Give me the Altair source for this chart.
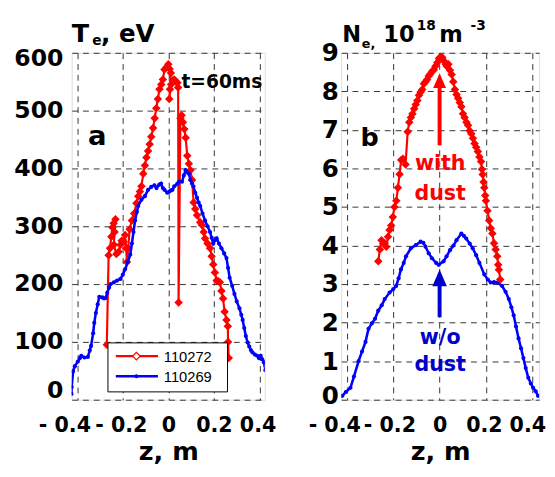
import altair as alt
import pandas as pd

# ---------------- data ----------------
te_red_z = [-0.270, -0.262, -0.256, -0.250, -0.245, -0.240, -0.232, -0.236, -0.239, -0.228, -0.218,
            -0.210, -0.205, -0.196, -0.190, -0.185, -0.182, -0.176, -0.170, -0.160, -0.150, -0.140,
            -0.132, -0.125, -0.118, -0.110, -0.103, -0.096, -0.089, -0.082, -0.075, -0.067, -0.060,
            -0.053, -0.046, -0.039, -0.031, -0.024, -0.017, -0.008, 0.000, 0.006, 0.011, 0.007,
            0.004, 0.012, 0.020, 0.026, 0.034, 0.040, 0.043, 0.045, 0.053, 0.058, 0.064, 0.070,
            0.076, 0.083, 0.090, 0.097, 0.104, 0.111, 0.118, 0.126, 0.140, 0.147, 0.155, 0.161,
            0.172, 0.183, 0.190, 0.197, 0.204, 0.212, 0.219, 0.226, 0.233, 0.240, 0.247, 0.255,
            0.261, 0.262, 0.265]
te_red = [95, 250, 262, 282, 298, 305, 312, 290, 268, 252, 256,
          268, 275, 273, 285, 262, 238, 262, 295, 310, 322, 340,
          352, 360, 369, 391, 405, 419, 430, 442, 455, 470, 487,
          504, 520, 537, 545, 554, 571, 575, 580, 572, 565, 537,
          520, 545, 552, 554, 550, 548, 540, 168, 487, 492, 480, 468,
          453, 422, 408, 397, 380, 341, 330, 319, 307, 302, 290, 279,
          270, 262, 248, 234, 220, 206, 205, 203, 188, 175, 152, 138,
          127, 100, 72]

te_blue_z = [-0.425, -0.424, -0.418, -0.410, -0.397, -0.388, -0.382, -0.368, -0.353, -0.345, -0.339,
             -0.330, -0.325, -0.318, -0.310, -0.303, -0.290, -0.282, -0.275, -0.268, -0.260, -0.253,
             -0.239, -0.225, -0.210, -0.200, -0.189, -0.178, -0.167, -0.160, -0.153, -0.146, -0.138,
             -0.132, -0.118, -0.103, -0.089, -0.075, -0.061, -0.052, -0.040, -0.032, -0.024, -0.017,
             -0.005, 0.004, 0.012, 0.018, 0.026, 0.040, 0.047, 0.060, 0.068, 0.076, 0.083, 0.090,
             0.097, 0.104, 0.110, 0.118, 0.126, 0.133, 0.140, 0.150, 0.161, 0.172, 0.183, 0.190,
             0.197, 0.205, 0.212, 0.222, 0.233, 0.245, 0.255, 0.262, 0.269, 0.280, 0.290, 0.300,
             0.312, 0.320, 0.326, 0.333, 0.340, 0.348, 0.355, 0.362, 0.369, 0.380, 0.390, 0.397,
             0.405, 0.412, 0.419, 0.426]
te_blue = [10, 22, 49, 58, 66, 72, 76, 73, 74, 85, 93,
           115, 133, 150, 165, 178, 177, 175, 176, 185, 194, 200,
           203, 206, 209, 216, 226, 238, 251, 270, 290, 310, 325,
           335, 346, 352, 363, 368, 371, 366, 372, 374, 366, 363,
           358, 360, 362, 363, 369, 374, 377, 377, 388, 397, 393, 391,
           380, 374, 369, 358, 349, 341, 335, 322, 310, 300, 290, 280,
           270, 276, 279, 270, 262, 253, 245, 228, 211, 197, 183, 170,
           158, 147, 138, 124, 110, 99, 92, 86, 82, 78, 76, 72,
           76, 70, 65, 51]

ne_red_z = [-0.265, -0.258, -0.251, -0.243, -0.237, -0.230, -0.223, -0.216, -0.209, -0.202, -0.195,
            -0.187, -0.180, -0.173, -0.166, -0.158, -0.147, -0.138, -0.131, -0.124, -0.117, -0.110,
            -0.103, -0.096, -0.089, -0.082, -0.075, -0.068, -0.061, -0.054, -0.047, -0.040, -0.032,
            -0.025, -0.018, -0.010, -0.003, 0.005, 0.012, 0.020, 0.026, 0.031, 0.038, 0.045, 0.052,
            0.059, 0.066, 0.073, 0.080, 0.087, 0.094, 0.101, 0.108, 0.116, 0.123, 0.130, 0.137,
            0.144, 0.151, 0.158, 0.165, 0.172, 0.179, 0.183, 0.186, 0.190, 0.193, 0.197, 0.200,
            0.207, 0.214, 0.221, 0.228, 0.235, 0.242, 0.249, 0.253, 0.256, 0.262]
ne_red = [3.59, 3.90, 4.14, 4.05, 4.06, 3.97, 4.23, 4.40, 4.52, 4.74, 5.00,
          5.16, 5.50, 5.85, 6.22, 6.25, 6.10, 6.95, 7.20, 7.32, 7.42, 7.55,
          7.66, 7.76, 7.90, 7.98, 8.05, 8.20, 8.25, 8.31, 8.40, 8.45, 8.52,
          8.56, 8.65, 8.75, 8.85, 8.90, 8.88, 8.78, 8.70, 8.65, 8.70, 8.55, 8.44,
          8.25, 8.05, 7.92, 7.82, 7.71, 7.60, 7.42, 7.32, 7.20, 7.12, 6.98, 6.90,
          6.78, 6.65, 6.55, 6.44, 6.30, 6.18, 5.98, 5.84, 5.65, 5.50, 5.30, 5.16,
          4.90, 4.65, 4.45, 4.31, 4.06, 3.90, 3.72, 3.50, 3.37, 3.12]

ne_blue_z = [-0.420, -0.405, -0.385, -0.370, -0.350, -0.335, -0.320, -0.307, -0.293, -0.279, -0.265,
             -0.250, -0.237, -0.216, -0.200, -0.188, -0.177, -0.167, -0.155, -0.145, -0.124, -0.103,
             -0.082, -0.070, -0.061, -0.047, -0.033, -0.015, -0.004, 0.017, 0.030, 0.045, 0.060,
             0.073, 0.094, 0.105, 0.115, 0.130, 0.143, 0.158, 0.172, 0.193, 0.208, 0.221, 0.235,
             0.249, 0.270, 0.285, 0.299, 0.310, 0.320, 0.330, 0.341, 0.352, 0.362, 0.372, 0.383,
             0.394, 0.404, 0.415, 0.425]
ne_blue = [0.10, 0.20, 0.31, 0.60, 1.00, 1.25, 1.50, 1.84, 1.98, 2.10, 2.31,
           2.45, 2.61, 2.78, 2.87, 2.95, 3.15, 3.38, 3.55, 3.72, 3.93, 4.01,
           4.10, 4.07, 3.97, 3.80, 3.67, 3.55, 3.50, 3.59, 3.72, 3.88, 4.00,
           4.14, 4.31, 4.25, 4.18, 4.05, 3.93, 3.75, 3.55, 3.25, 3.12, 3.04, 3.05,
           3.04, 2.95, 2.80, 2.61, 2.40, 2.19, 1.90, 1.59, 1.33, 1.08, 0.82, 0.57,
           0.42, 0.31, 0.22, 0.10]

x_ticks = [-0.4, -0.2, 0, 0.2, 0.4]
te_ticks = [0, 100, 200, 300, 400, 500, 600]
ne_ticks = [0, 1, 2, 3, 4, 5, 6, 7, 8, 9]
legend_names = ["110272", "110269"]

# arrows (annotation, in data units of panel b)
red_arrow = {"z": [0.0], "y0": [6.6], "y1": [8.12], "head": [8.28]}
blue_arrow = {"z": [0.0], "y0": [2.14], "y1": [2.98], "head": [3.16]}


def frame(z, v):
    return pd.DataFrame({"z": z, "v": v, "i": list(range(len(z)))})


BOLD = "DejaVu Sans"
LABEL_EXPR = ("datum.value < 0 ? '- ' + format(abs(datum.value), '.1f') : "
              "(datum.value == 0 ? '0' : format(datum.value, '.1f'))")
one = pd.DataFrame({"a": [0]})


def cond(offsets):
    return {"condition": [{"test": t, "value": v} for t, v in offsets], "value": 0}


def x_axis(offsets):
    return alt.Axis(values=x_ticks, labelExpr=LABEL_EXPR, grid=True, gridDash=[6, 5],
                    gridColor="#333333", gridWidth=1, ticks=False, domain=False, labelFont=BOLD,
                    labelFontWeight="bold", labelFontSize=21, labelColor="black", labelPadding=15,
                    labelOverlap=False, labelFlush=False, labelOffset=cond(offsets),
                    title="z, m", titleFont=BOLD, titleFontWeight="bold", titleFontSize=26,
                    titleColor="black", titlePadding=4)


def y_axis(values, size, pad, offsets):
    return alt.Axis(values=values, grid=True, gridDash=[6, 5], gridColor="#333333", gridWidth=1,
                    ticks=False, domain=False, labelFont=BOLD, labelFontWeight="bold",
                    labelFontSize=size, labelColor="black", labelPadding=pad,
                    labelOverlap=False, labelFlush=False, labelOffset=cond(offsets), title=None)


def txt(s, x, y, size, color="black", align="left", baseline="alphabetic", font=BOLD, weight="bold"):
    return alt.Chart(one).mark_text(text=s, align=align, baseline=baseline, font=font,
                                    fontWeight=weight, fontSize=size, color=color).encode(
        x=alt.value(x), y=alt.value(y))


# ---------------- panel a ----------------
xs_a = alt.Scale(domain=[-0.424, 0.423], nice=False, zero=False)
ys_a = alt.Scale(domain=[0, 600], nice=False)
xa_a = x_axis([("datum.value < -0.3", -13), ("datum.value < -0.1", -2),
               ("datum.value > 0.3", -2)])
ya_a = y_axis(te_ticks, 24, 9, [("datum.value > 550", 6), ("datum.value < 50", -9)])


def enc_a(ch):
    return ch.encode(x=alt.X("z:Q", scale=xs_a, axis=xa_a), y=alt.Y("v:Q", scale=ys_a, axis=ya_a),
                     order="i:Q")


base_a_red = enc_a(alt.Chart(frame(te_red_z, te_red)))
base_a_blue = enc_a(alt.Chart(frame(te_blue_z, te_blue)))

red_a = base_a_red.mark_line(color="#ff0000", strokeWidth=2.2, clip=True) + \
    base_a_red.mark_point(shape="diamond", filled=True, color="#ff0000", size=75, opacity=1, clip=True)
blue_a = base_a_blue.mark_line(color="#0000ff", strokeWidth=2.6, clip=True) + \
    base_a_blue.mark_circle(color="#0000ff", size=18, opacity=1, clip=True)

leg_box = alt.Chart(one).mark_rect(fill="white", stroke="black", strokeWidth=1).encode(
    x=alt.value(37), x2=alt.value(159), y=alt.value(296), y2=alt.value(346))
leg_red_line = alt.Chart(one).mark_rule(color="#ff0000", strokeWidth=2.5).encode(
    x=alt.value(45), x2=alt.value(88), y=alt.value(309.5))
leg_red_pt = alt.Chart(one).mark_point(shape="diamond", filled=True, fill="white", stroke="#ff0000",
                                       strokeWidth=1.3, size=60, opacity=1).encode(
    x=alt.value(66), y=alt.value(309.5))
leg_blue_line = alt.Chart(one).mark_rule(color="#0000ff", strokeWidth=2.5).encode(
    x=alt.value(45), x2=alt.value(88), y=alt.value(330))
leg_blue_pt = alt.Chart(one).mark_circle(color="#0000ff", size=16, opacity=1).encode(
    x=alt.value(66), y=alt.value(330))
leg_t1 = txt(legend_names[0], 94, 310, 15, baseline="middle", font="Liberation Sans", weight="normal")
leg_t2 = txt(legend_names[1], 94, 331, 15, baseline="middle", font="Liberation Sans", weight="normal")

title_a = txt("T", 0, -11, 26) + txt("e", 21, -8, 14) + txt(", eV", 30, -11, 25)
lab_a = txt("a", 26, 86, 28, align="center", baseline="middle") + \
    txt("t=60ms", 112, 30, 19, baseline="middle")

panel_a = alt.layer(red_a, blue_a, leg_box, leg_red_line, leg_red_pt, leg_blue_line, leg_blue_pt,
                    leg_t1, leg_t2, title_a, lab_a).properties(width=197, height=354)

# ---------------- panel b ----------------
xs_b = alt.Scale(domain=[-0.425, 0.43], nice=False, zero=False)
ys_b = alt.Scale(domain=[0, 9], nice=False)
xa_b = x_axis([("datum.value < -0.3", -13), ("datum.value < -0.1", -4),
               ("datum.value > 0.3", -5), ("datum.value > 0.1", -2)])
ya_b = y_axis(ne_ticks, 25, 3, [("datum.value < 0.5", -4)])


def xb(f="z:Q"):
    return alt.X(f, scale=xs_b, axis=xa_b)


def yb(f):
    return alt.Y(f, scale=ys_b, axis=ya_b)


base_b_blue = alt.Chart(frame(ne_blue_z, ne_blue)).encode(x=xb(), y=yb("v:Q"), order="i:Q")
base_b_red = alt.Chart(frame(ne_red_z, ne_red)).encode(x=xb(), y=yb("v:Q"), order="i:Q")

blue_b = base_b_blue.mark_line(color="#0000ff", strokeWidth=2.6, clip=True) + \
    base_b_blue.mark_circle(color="#0000ff", size=18, opacity=1, clip=True)
red_b = base_b_red.mark_line(color="#ff0000", strokeWidth=2.2, clip=True) + \
    base_b_red.mark_point(shape="diamond", filled=True, color="#ff0000", size=75, opacity=1, clip=True)

head_path = "M0,-1L-0.87,1L0.87,1Z"
ra = alt.Chart(pd.DataFrame(red_arrow))
arrow_red = ra.mark_rule(color="#ff0000", strokeWidth=4).encode(
    x=xb(), y=yb("y0:Q"), y2="y1:Q") + \
    ra.mark_point(shape=head_path, filled=True, color="#ff0000", size=225, opacity=1).encode(
        x=xb(), y=yb("head:Q"))
ba = alt.Chart(pd.DataFrame(blue_arrow))
arrow_blue = ba.mark_rule(color="#0000cc", strokeWidth=4).encode(
    x=xb(), y=yb("y0:Q"), y2="y1:Q") + \
    ba.mark_point(shape=head_path, filled=True, color="#0000cc", size=289, opacity=1).encode(
        x=xb(), y=yb("head:Q"))

title_b = (txt("N", 1, -11, 23) + txt("e,", 21, -5, 13) +
           txt("10", 43, -11, 23) + txt("18", 77, -23, 14) +
           txt("m", 100, -11, 23) + txt("-3", 132, -23, 14))
lab_b = txt("b", 29, 87, 26, align="center", baseline="middle")
with_dust = txt("with", 101, 114, 21, color="#ff0000", align="center", baseline="middle") + \
    txt("dust", 101, 144, 21, color="#ff0000", align="center", baseline="middle")
wo_dust = txt("w/o", 101, 291, 21, color="#0000cc", align="center", baseline="middle") + \
    txt("dust", 101, 319, 21, color="#0000cc", align="center", baseline="middle")

panel_b = alt.layer(blue_b, red_b, arrow_red, arrow_blue, title_b, lab_b, with_dust, wo_dust).properties(
    width=202, height=354)

chart = alt.hconcat(panel_a, panel_b, spacing=31).properties(
    padding={"left": 5, "top": 6, "right": 0, "bottom": 0}
).configure_view(stroke="black", strokeWidth=1.2, fill="white").configure(background="white")

chart.save("out.html", embed_options={"renderer": "svg", "actions": False})
